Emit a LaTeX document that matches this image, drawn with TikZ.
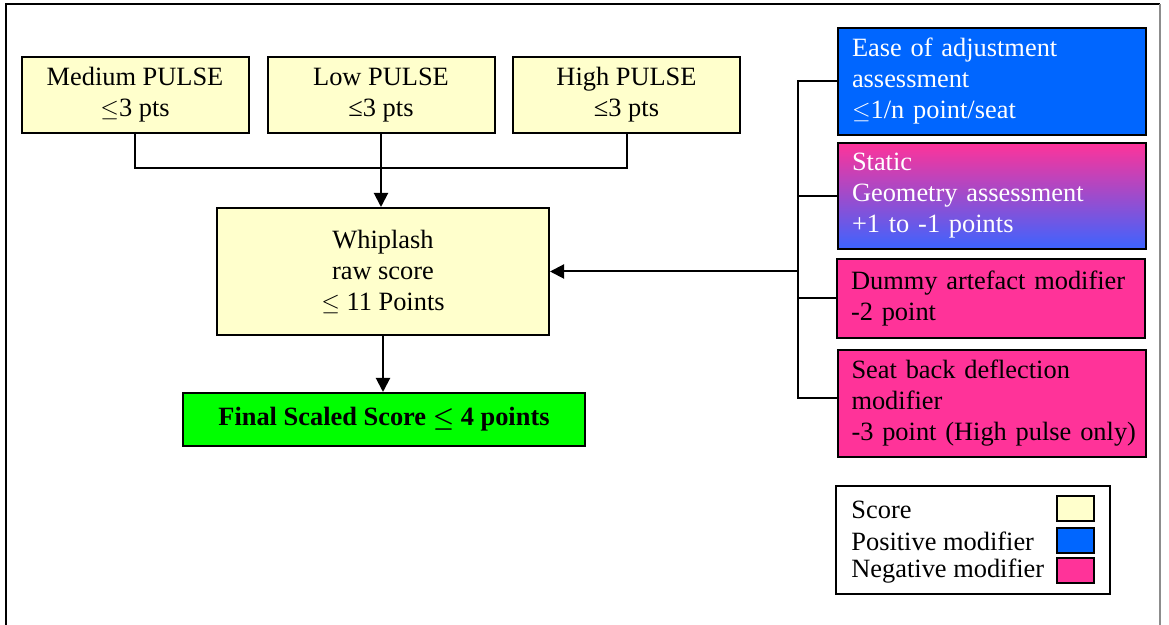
\documentclass[tikz,border=0pt]{standalone}
\usepackage{fontspec}
\setmainfont{Liberation Serif}
\usetikzlibrary{arrows.meta, positioning}
\definecolor{scoreyellow}{RGB}{255,255,204}
\definecolor{posblue}{RGB}{0,102,255}
\definecolor{negpink}{RGB}{255,51,153}
\definecolor{fadeblue}{RGB}{60,100,255}
\definecolor{finalgreen}{RGB}{0,255,0}

\begin{document}
\begin{tikzpicture}[
    x=0.5pt, y=-0.5pt,
    box/.style={draw=black, line width=1pt, inner sep=0pt,
        font=\fontsize{13.2}{15.5}\selectfont, align=center},
    score/.style={box, fill=scoreyellow, minimum width=113.5pt, minimum height=38pt},
    modifier/.style={box, minimum width=154pt, text width=140pt, inner xsep=7pt, align=left},
    swatch/.style={draw=black, line width=1pt, minimum width=18.5pt, minimum height=12.5pt, inner sep=0pt},
    keytext/.style={anchor=west, inner sep=0pt, font=\fontsize{13.2}{15.5}\selectfont},
    wire/.style={line width=1pt},
    feed/.style={wire, -{Triangle[length=7pt,width=7pt]}}
]
\useasboundingbox (0,0) rectangle (1169,625);
\draw[line width=1pt] (6,625) -- (6,4) -- (1160,4);
\draw[black!45, line width=0.6pt] (1160,4) -- (1160,625);

% pulse scores
\node[score] (medium) at (135,95) {Medium PULSE\\$\leq$3 pts};
\node[score] (low) at (381,95) {Low PULSE\\≤3 pts};
\node[score] (high) at (626.5,95) {High PULSE\\≤3 pts};

\node[box, fill=scoreyellow, minimum width=166pt, minimum height=63.5pt] (raw) at (383,271.5)
    {Whiplash\\raw score\\$\leq$ 11 Points};
\node[box, fill=finalgreen, minimum width=201pt, minimum height=26.5pt] (final) at (384,419.5)
    {\textbf{Final Scaled Score {\boldmath$\leq$} 4 points}};

% modifiers
\node[modifier, fill=posblue, text=white, minimum height=53.5pt] (ease) at (992,81.5)
    {Ease of adjustment\\assessment\\$\leq$1/n point/seat};
\node[modifier, top color=negpink, bottom color=fadeblue, text=white, minimum height=53pt] (static) at (992,196)
    {Static\\Geometry assessment\\+1 to -1 points};
\node[modifier, fill=negpink, minimum height=39.5pt] (dummy) at (991,298.5)
    {Dummy artefact modifier\\-2 point};
\node[modifier, fill=negpink, minimum height=53.5pt] (seat) at (991.5,403.5)
    {Seat back deflection\\modifier\\\mbox{-3 point (High pulse only)}};

\coordinate (bus) at (798,0);

\draw[wire] ([yshift=1pt]medium.south) -- ++(0,36) -| ([yshift=1pt]high.south);
\draw[feed] (low.south) -- (low.south |- raw.north);
\draw[feed] (raw.south) -- (raw.south |- final.north);

\draw[wire] (ease.west) -- (ease.west -| bus) -- ([yshift=2.5pt]seat.west -| bus) -- ([yshift=2.5pt]seat.west);
\draw[wire] (static.west) -- (static.west -| bus);
\draw[wire] (dummy.west) -- (dummy.west -| bus);
\draw[feed] (raw.east -| bus) -- (raw.east);

% legend
\node[draw=black, line width=1pt, minimum width=137pt, minimum height=54pt, inner sep=0pt] (legend) at (973,540) {};
\node[keytext] (kscore) at (851,510) {Score};
\node[keytext] (kpos) at (851,541) {Positive modifier};
\node[keytext] (kneg) at (851,571) {Negative modifier};
\node[swatch, fill=scoreyellow] (sscore) at (1075.5,509) {};
\node[swatch, fill=posblue] (spos) at (1075.5,541) {};
\node[swatch, fill=negpink] (sneg) at (1075.5,571) {};

\end{tikzpicture}
\end{document}
